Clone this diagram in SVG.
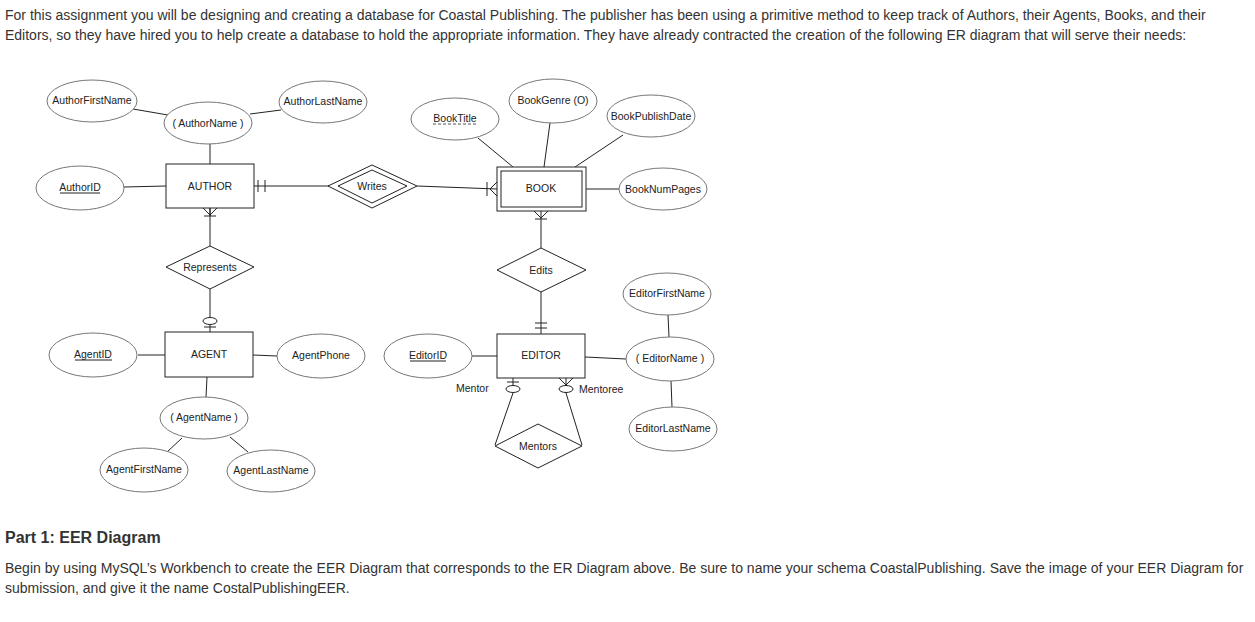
<svg xmlns="http://www.w3.org/2000/svg" width="1255" height="622" viewBox="0 0 1255 622">
<style>
.p{font-family:"Liberation Sans",Arial,sans-serif;font-size:14px;fill:#333}
.h{font-family:"Liberation Sans",Arial,sans-serif;font-size:16px;font-weight:bold;fill:#333}
.t{font-family:"Liberation Sans",Arial,sans-serif;font-size:10.5px;fill:#222;text-anchor:middle;dominant-baseline:central}
.l{font-family:"Liberation Sans",Arial,sans-serif;font-size:10.5px;fill:#222;dominant-baseline:central}
ellipse{fill:#fff;stroke:#777;stroke-width:1}
.e{fill:#fff;stroke:#222;stroke-width:1}
.c line,.c polyline,.c path{stroke:#222;stroke-width:1;fill:none}
.c ellipse{stroke:#222}
</style>
<rect width="1255" height="622" fill="#fff"/>
<text class="p" x="5" y="20">For this assignment you will be designing and creating a database for Coastal Publishing. The publisher has been using a primitive method to keep track of Authors, their Agents, Books, and their</text>
<text class="p" x="5" y="40">Editors, so they have hired you to help create a database to hold the appropriate information. They have already contracted the creation of the following ER diagram that will serve their needs:</text>
<text class="h" x="5" y="543">Part 1: EER Diagram</text>
<text class="p" x="5" y="573">Begin by using MySQL’s Workbench to create the EER Diagram that corresponds to the ER Diagram above. Be sure to name your schema CoastalPublishing. Save the image of your EER Diagram for</text>
<text class="p" x="5" y="593">submission, and give it the name CostalPublishingEER.</text>

<g class="c" id="connectors">
<line x1="133" y1="109" x2="168" y2="115"/>
<line x1="250" y1="114" x2="281" y2="110"/>
<line x1="210" y1="144" x2="210" y2="164"/>
<line x1="124" y1="187" x2="166" y2="186"/>
<line x1="254" y1="186" x2="329" y2="186"/>
<line x1="258" y1="180" x2="258" y2="192"/><line x1="265" y1="180" x2="265" y2="192"/>
<line x1="210" y1="208" x2="210" y2="246"/>
<polyline points="203,208 210,215 217,208"/><line x1="204" y1="216" x2="216" y2="216"/><line x1="210" y1="208" x2="210" y2="216"/>
<line x1="210" y1="289" x2="210" y2="332"/>
<ellipse cx="210" cy="321" rx="7" ry="3.5" fill="#fff"/><line x1="204" y1="327" x2="216" y2="327"/>
<line x1="417" y1="186" x2="497" y2="189"/>
<line x1="487" y1="182" x2="487" y2="196"/><polyline points="497,182 490,189 497,196"/>
<line x1="478" y1="138" x2="513" y2="167"/>
<line x1="550" y1="123" x2="544" y2="167"/>
<line x1="623" y1="135" x2="575" y2="167"/>
<line x1="586" y1="189" x2="619" y2="189"/>
<line x1="541" y1="211" x2="541" y2="248"/>
<polyline points="534,211 541,218 548,211"/><line x1="535" y1="219" x2="547" y2="219"/>
<line x1="541" y1="292" x2="541" y2="334"/>
<line x1="535" y1="323" x2="547" y2="323"/><line x1="535" y1="328" x2="547" y2="328"/>
<line x1="472" y1="356" x2="497" y2="356"/>
<line x1="585" y1="357" x2="626" y2="359"/>
<line x1="668" y1="315" x2="669" y2="337"/>
<line x1="671" y1="381" x2="672" y2="407"/>
<line x1="513" y1="378" x2="513" y2="386"/><line x1="507" y1="382" x2="519" y2="382"/>
<ellipse cx="513" cy="389" rx="7" ry="3.5" fill="#fff"/>
<line x1="513" y1="393" x2="495" y2="445"/>
<polyline points="559,378 566,385 573,378"/><line x1="566" y1="378" x2="566" y2="386"/>
<ellipse cx="566" cy="389" rx="7" ry="3.5" fill="#fff"/>
<line x1="566" y1="393" x2="582" y2="445"/>
<line x1="138" y1="355" x2="165" y2="355"/>
<line x1="253" y1="355" x2="277" y2="356"/>
<line x1="207" y1="377" x2="206" y2="397"/>
<line x1="182" y1="438" x2="167" y2="452"/>
<line x1="230" y1="437" x2="248" y2="452"/>
</g>

<g id="AuthorFirstName"><ellipse cx="92" cy="101" rx="45" ry="21"/><text class="t" x="92" y="100">AuthorFirstName</text></g>
<g id="AuthorName"><ellipse cx="208" cy="123" rx="44" ry="21"/><text class="t" x="208" y="123">( AuthorName )</text></g>
<g id="AuthorLastName"><ellipse cx="323" cy="102" rx="44" ry="21"/><text class="t" x="323" y="101">AuthorLastName</text></g>
<g id="AuthorID"><ellipse cx="80" cy="188" rx="44" ry="22"/><text class="t" x="80" y="187">AuthorID</text><line x1="60" y1="193" x2="100" y2="193" stroke="#222"/></g>
<g id="AUTHOR"><rect class="e" x="166" y="164" width="88" height="44"/><text class="t" x="210" y="186">AUTHOR</text></g>
<g id="Writes"><polygon class="e" points="328,186 372,165 417,186 372,208"/><polygon class="e" points="338,186 372,170 407,186 372,203"/><text class="t" x="372" y="186">Writes</text></g>
<g id="Represents"><polygon class="e" points="166,267 210,246 254,267 210,289"/><text class="t" x="210" y="267">Represents</text></g>
<g id="BookTitle"><ellipse cx="455" cy="119" rx="44" ry="21"/><text class="t" x="455" y="118">BookTitle</text><line x1="433" y1="124" x2="477" y2="124" stroke="#555" stroke-dasharray="3,2"/></g>
<g id="BookGenre"><ellipse cx="553" cy="101" rx="44" ry="22"/><text class="t" x="553" y="100">BookGenre (O)</text></g>
<g id="BookPublishDate"><ellipse cx="651" cy="116" rx="44" ry="21"/><text class="t" x="651" y="116">BookPublishDate</text></g>
<g id="BOOK"><rect class="e" x="497" y="167" width="89" height="44"/><rect class="e" x="501" y="171" width="81" height="36"/><text class="t" x="541" y="188">BOOK</text></g>
<g id="BookNumPages"><ellipse cx="663" cy="189" rx="44" ry="21"/><text class="t" x="663" y="189">BookNumPages</text></g>
<g id="Edits"><polygon class="e" points="497,270 541,248 586,270 541,292"/><text class="t" x="541" y="270">Edits</text></g>
<g id="EditorFirstName"><ellipse cx="667" cy="294" rx="44" ry="21"/><text class="t" x="667" y="293">EditorFirstName</text></g>
<g id="EditorID"><ellipse cx="428" cy="356" rx="44" ry="22"/><text class="t" x="428" y="355">EditorID</text><line x1="410" y1="361" x2="446" y2="361" stroke="#222"/></g>
<g id="EDITOR"><rect class="e" x="497" y="334" width="88" height="44"/><text class="t" x="541" y="355">EDITOR</text></g>
<g id="EditorName"><ellipse cx="670" cy="359" rx="44" ry="22"/><text class="t" x="670" y="358">( EditorName )</text></g>
<g id="EditorLastName"><ellipse cx="673" cy="429" rx="44" ry="22"/><text class="t" x="673" y="428">EditorLastName</text></g>
<g id="Mentors"><polygon class="e" points="495,446 538,424 582,446 538,468"/><text class="t" x="538" y="446">Mentors</text></g>
<text class="l" x="456" y="388">Mentor</text>
<text class="l" x="579" y="389">Mentoree</text>
<g id="AgentID"><ellipse cx="93" cy="355" rx="44" ry="22"/><text class="t" x="93" y="354">AgentID</text><line x1="75" y1="360" x2="112" y2="360" stroke="#222"/></g>
<g id="AGENT"><rect class="e" x="165" y="332" width="88" height="45"/><text class="t" x="209" y="354">AGENT</text></g>
<g id="AgentPhone"><ellipse cx="321" cy="356" rx="44" ry="22"/><text class="t" x="321" y="355">AgentPhone</text></g>
<g id="AgentName"><ellipse cx="204" cy="418" rx="44" ry="21"/><text class="t" x="204" y="417">( AgentName )</text></g>
<g id="AgentFirstName"><ellipse cx="144" cy="470" rx="44" ry="22"/><text class="t" x="144" y="469">AgentFirstName</text></g>
<g id="AgentLastName"><ellipse cx="271" cy="471" rx="44" ry="21"/><text class="t" x="271" y="470">AgentLastName</text></g>
</svg>
